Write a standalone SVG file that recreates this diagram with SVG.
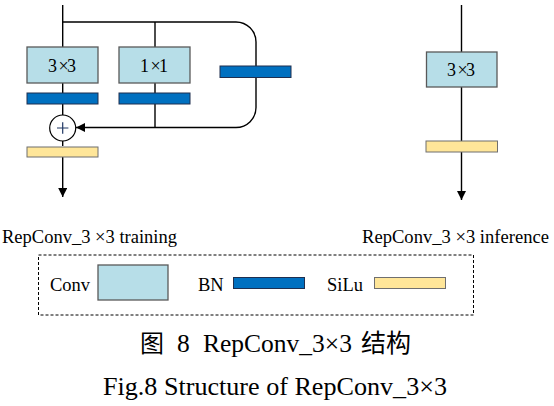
<svg xmlns="http://www.w3.org/2000/svg" width="554" height="406" viewBox="0 0 554 406">
<style>
.conv{fill:#B7DEE8;stroke:#595959;stroke-width:1.3}
.bn{fill:#0070C0;stroke:#1F2F4F;stroke-width:1}
.silu{fill:#FFE699;stroke:#6F6F6F;stroke-width:1}
.ln{fill:none;stroke:#000;stroke-width:1.4}
.t{font-family:"Liberation Serif","Times New Roman",serif;fill:#000}
.lbl{font-size:18.5px}
.bx{font-size:18px}
.cap{font-family:"Liberation Serif","Noto Sans CJK SC",serif;fill:#000}
</style>
<defs>
<marker id="ah" markerWidth="10" markerHeight="10" refX="9" refY="4.5" orient="auto" markerUnits="userSpaceOnUse">
<path d="M0,0 L9,4.5 L0,9 Z" fill="#000"/>
</marker>
</defs>
<rect width="554" height="406" fill="#fff"/>
<g id="connectors">
<path class="ln" d="M62.7,5 V146"/>
<path class="ln" d="M62.7,157 V197" marker-end="url(#ah)"/>
<path class="ln" d="M62.7,22 H236 A20,20 0 0 1 256,42 V107.5 A20,20 0 0 1 236,127.5 H76" marker-end="url(#ah)"/>
<path class="ln" d="M155,22 V127.5"/>
<path class="ln" d="M461.5,5 V200" marker-end="url(#ah)"/>
</g>
<g id="conv3x3-train">
<rect class="conv" x="27" y="47" width="71" height="36"/>
<text class="t bx" x="48" y="71.5" textLength="28" lengthAdjust="spacing">3 ×3</text>
</g>
<g id="conv1x1-train">
<rect class="conv" x="119" y="47" width="71" height="36"/>
<text class="t bx" x="140" y="71.5" textLength="28" lengthAdjust="spacing">1 ×1</text>
</g>
<g id="bn-3x3"><rect class="bn" x="27" y="93" width="71" height="11"/></g>
<g id="bn-1x1"><rect class="bn" x="119" y="93" width="71" height="11"/></g>
<g id="bn-identity"><rect class="bn" x="220" y="66" width="71" height="11.5"/></g>
<g id="add">
<circle cx="62.7" cy="128" r="13" fill="#fff" stroke="#000" stroke-width="1.2"/>
<path d="M57,128 H68.4 M62.7,122.3 V133.7" stroke="#203864" stroke-width="1.2"/>
</g>
<g id="silu-train"><rect class="silu" x="27" y="147" width="71" height="10"/></g>
<g id="conv3x3-infer">
<rect class="conv" x="426.5" y="52" width="70.5" height="35"/>
<text class="t bx" x="447" y="75.5" textLength="28" lengthAdjust="spacing">3 ×3</text>
</g>
<g id="silu-infer"><rect class="silu" x="426" y="141" width="71.5" height="11"/></g>
<g id="labels">
<text class="t lbl" x="2" y="243" textLength="175" lengthAdjust="spacingAndGlyphs">RepConv_3 ×3 training</text>
<text class="t lbl" x="362" y="243" textLength="187" lengthAdjust="spacingAndGlyphs">RepConv_3 ×3 inference</text>
</g>
<g id="legend">
<rect x="38.5" y="255" width="435" height="60" fill="none" stroke="#000" stroke-width="1" stroke-dasharray="3,2"/>
<text class="t lbl" x="50" y="291">Conv</text>
<rect class="conv" x="98" y="265" width="70" height="35"/>
<text class="t lbl" x="198" y="291">BN</text>
<rect class="bn" x="233.5" y="277.5" width="71" height="11"/>
<text class="t lbl" x="327" y="291">SiLu</text>
<rect class="silu" x="374.5" y="277.5" width="71" height="11"/>
</g>
<g id="caption">
<text class="cap" font-size="24" x="140" y="352">图</text>
<text class="cap" font-size="25.5" x="177" y="352">8</text>
<text class="cap" font-size="25.5" x="203" y="352" textLength="149" lengthAdjust="spacingAndGlyphs">RepConv_3×3</text>
<text class="cap" font-size="25" x="361" y="352" font-family="'Noto Sans CJK SC',serif">结构</text>
<text class="cap" font-size="26" x="103" y="395" textLength="344" lengthAdjust="spacingAndGlyphs">Fig.8 Structure of RepConv_3×3</text>
</g>
</svg>
